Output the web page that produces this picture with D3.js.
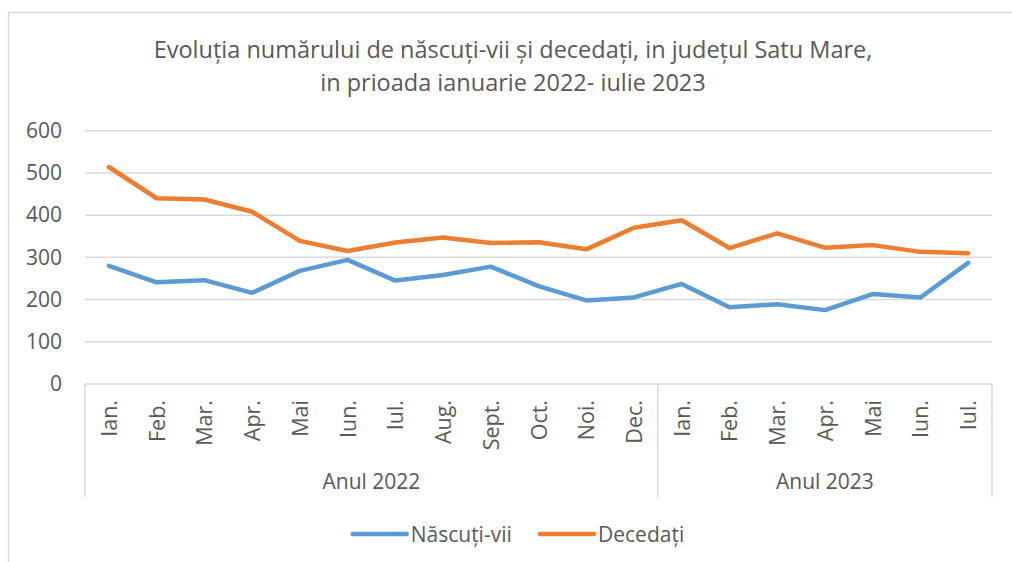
<!DOCTYPE html>
<html>
<head>
<meta charset="utf-8">
<script src="https://cdn.jsdelivr.net/npm/d3@7"></script>
<style>
  body { margin: 0; background: #fff; }
  text { font-family: "Open Sans", sans-serif; fill: #595959; }
</style>
</head>
<body>
<div id="chart"></div>
<script>
// data
const months = ["Ian.", "Feb.", "Mar.", "Apr.", "Mai", "Iun.", "Iul.", "Aug.", "Sept.", "Oct.", "Noi.", "Dec.",
                "Ian.", "Feb.", "Mar.", "Apr.", "Mai", "Iun.", "Iul."];
const years = [{ label: "Anul 2022", from: 0, to: 11 }, { label: "Anul 2023", from: 12, to: 18 }];
const nascuti = [280, 241, 246, 216, 268, 294, 245, 258, 278, 232, 198, 205, 237, 182, 189, 175, 213, 205, 287];
const decedati = [514, 440, 437, 408, 339, 315, 335, 347, 334, 336, 319, 370, 388, 322, 357, 323, 329, 313, 310];
const yTicks = [0, 100, 200, 300, 400, 500, 600];
const seriesNames = ["Născuți-vii", "Decedați"];
const colors = ["#5b9bd5", "#ed7d31"];

const width = 1012, height = 562;
const plot = { left: 85, right: 992, top: 130.7, bottom: 384 };

const svg = d3.select("#chart").append("svg")
    .attr("width", width)
    .attr("height", height);

// chart area border
svg.append("rect")
    .attr("x", 8.5).attr("y", 12.5)
    .attr("width", 1020).attr("height", 600)
    .attr("fill", "none")
    .attr("stroke", "#d9d9d9")
    .attr("stroke-width", 1.5);

// title
const title = svg.append("text")
    .attr("text-anchor", "middle")
    .style("font-size", "23.5px");
title.append("tspan").attr("x", 513).attr("y", 58)
    .text("Evoluția numărului de născuți-vii și decedați, in județul Satu Mare,");
title.append("tspan").attr("x", 513).attr("y", 91)
    .text("in prioada ianuarie 2022- iulie 2023");

// scales
const x = d3.scaleBand()
    .domain(d3.range(months.length))
    .range([plot.left, plot.right]);
const xc = i => x(i) + x.bandwidth() / 2;

const y = d3.scaleLinear()
    .domain([0, 600])
    .range([plot.bottom, plot.top]);

// gridlines
svg.append("g")
    .selectAll("line")
    .data(yTicks.filter(d => d > 0))
    .join("line")
    .attr("x1", plot.left).attr("x2", plot.right)
    .attr("y1", d => y(d)).attr("y2", d => y(d))
    .attr("stroke", "#d9d9d9")
    .attr("stroke-width", 1.5);

// y axis labels
const yAxis = d3.axisLeft(y).tickValues(yTicks).tickSize(0).tickPadding(23);
const yG = svg.append("g")
    .attr("transform", `translate(${plot.left},0)`)
    .call(yAxis);
yG.select(".domain").remove();
yG.selectAll("text")
    .style("font-family", "Open Sans, sans-serif")
    .style("font-size", "21px")
    .attr("fill", "#595959");

// category axis: baseline + group separators
const axisColor = "#d9d9d9";
svg.append("line")
    .attr("x1", plot.left).attr("x2", plot.right)
    .attr("y1", y(0)).attr("y2", y(0))
    .attr("stroke", axisColor).attr("stroke-width", 1.5);

const seps = [x(0), x(12), x(18) + x.bandwidth()];
svg.append("g")
    .selectAll("line")
    .data(seps)
    .join("line")
    .attr("x1", d => d).attr("x2", d => d)
    .attr("y1", y(0)).attr("y2", 497)
    .attr("stroke", axisColor).attr("stroke-width", 1.5);

// month labels (rotated)
svg.append("g")
    .selectAll("text")
    .data(months)
    .join("text")
    .attr("transform", (d, i) => `translate(${xc(i) + 8},400) rotate(-90)`)
    .attr("text-anchor", "end")
    .style("font-size", "21.5px")
    .text(d => d);

// year labels
svg.append("g")
    .selectAll("text")
    .data(years)
    .join("text")
    .attr("x", d => (x(d.from) + x(d.to) + x.bandwidth()) / 2)
    .attr("y", 489)
    .attr("text-anchor", "middle")
    .style("font-size", "21px")
    .text(d => d.label);

// series lines
const line = d3.line()
    .x((d, i) => xc(i))
    .y(d => y(d));

[nascuti, decedati].forEach((s, k) => {
    svg.append("path")
        .datum(s)
        .attr("d", line)
        .attr("fill", "none")
        .attr("stroke", colors[k])
        .attr("stroke-width", 4.5)
        .attr("stroke-linejoin", "round")
        .attr("stroke-linecap", "round");
});

// legend
const legendX = [352.7, 540];
const legend = svg.append("g")
    .selectAll("g")
    .data(seriesNames)
    .join("g")
    .attr("transform", (d, i) => `translate(${legendX[i]},534)`);
legend.append("line")
    .attr("x1", 0).attr("x2", 54)
    .attr("stroke", (d, i) => colors[i])
    .attr("stroke-width", 4.5)
    .attr("stroke-linecap", "round");
legend.append("text")
    .attr("x", 58)
    .attr("y", 7.5)
    .style("font-size", "21px")
    .text(d => d);
</script>
</body>
</html>
